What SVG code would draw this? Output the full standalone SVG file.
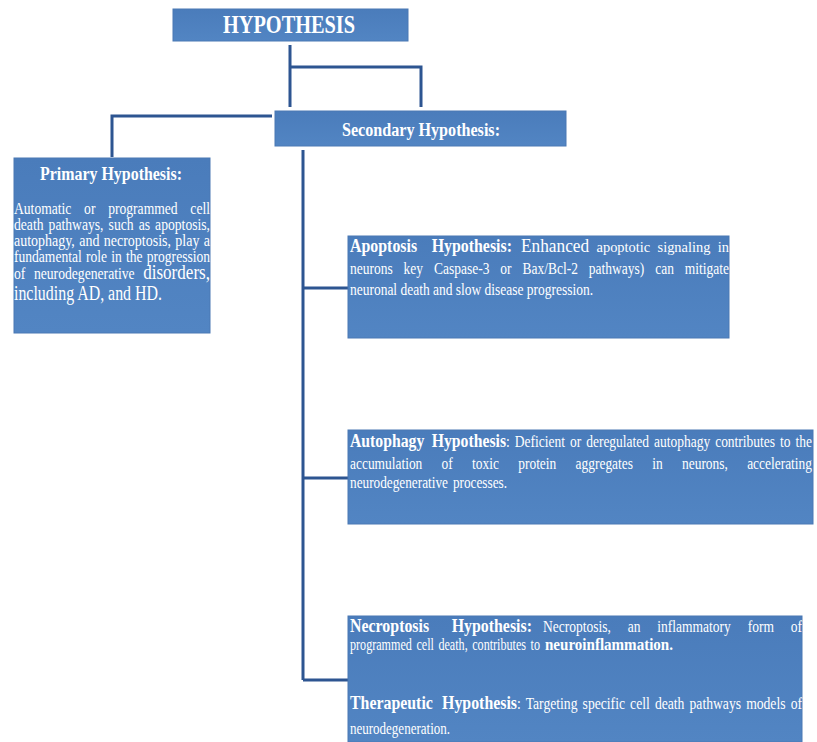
<svg xmlns="http://www.w3.org/2000/svg" width="817" height="742" viewBox="0 0 817 742">
<defs>
<linearGradient id="bg" x1="0" y1="0" x2="0" y2="1">
<stop offset="0" stop-color="#4a7cbb"/>
<stop offset="1" stop-color="#5285c3"/>
</linearGradient>
<style>
.box{fill:url(#bg);stroke:#4a78b4;stroke-width:1}
.t{font-family:"Liberation Serif","Times New Roman",serif;fill:#ffffff}
.b{font-weight:bold}
.c{fill:none;stroke:#2d5591;stroke-width:3}
</style>
</defs>
<rect width="817" height="742" fill="#ffffff"/>
<g id="connectors">
<path class="c" d="M290,45 V107 M290,67 H421 V107"/>
<path class="c" d="M272,116 H112 V157"/>
<path class="c" d="M303,150 V680"/>
<path class="c" d="M303,288 H348 M303,478 H348 M303,680 H348"/>
</g>
<g id="hypothesis">
<rect class="box" x="173" y="9" width="235" height="32"/>
<text class="t b" x="223" y="33" font-size="26" textLength="132" lengthAdjust="spacingAndGlyphs">HYPOTHESIS</text>
</g>
<g id="secondary">
<rect class="box" x="275" y="111" width="291" height="35"/>
<text class="t b" x="342" y="136" font-size="18" textLength="158" lengthAdjust="spacingAndGlyphs">Secondary Hypothesis:</text>
</g>
<g id="primary">
<rect class="box" x="14" y="158" width="196" height="175"/>
<text class="t b" x="40" y="180" font-size="18" textLength="142" lengthAdjust="spacingAndGlyphs">Primary Hypothesis:</text>
<text class="t" x="14" y="214" font-size="16" word-spacing="11" textLength="196" lengthAdjust="spacingAndGlyphs">Automatic or programmed cell</text>
<text class="t" x="14" y="230" font-size="16" word-spacing="2" textLength="196" lengthAdjust="spacingAndGlyphs">death pathways, such as apoptosis,</text>
<text class="t" x="14" y="246" font-size="16" word-spacing="1" textLength="196" lengthAdjust="spacingAndGlyphs">autophagy, and necroptosis, play a</text>
<text class="t" x="14" y="262" font-size="16" word-spacing="1" textLength="196" lengthAdjust="spacingAndGlyphs">fundamental role in the progression</text>
<text class="t" x="14" y="279" font-size="16" word-spacing="6" textLength="196" lengthAdjust="spacingAndGlyphs">of neurodegenerative <tspan font-size="20">disorders,</tspan></text>
<text class="t" x="14" y="300" font-size="20" textLength="148" lengthAdjust="spacingAndGlyphs">including AD, and HD.</text>
</g>
<g id="apoptosis">
<rect class="box" x="348" y="236" width="381" height="102"/>
<text class="t b" x="350" y="252" font-size="18" word-spacing="12" textLength="162" lengthAdjust="spacingAndGlyphs">Apoptosis Hypothesis:</text>
<text class="t" x="521" y="252" font-size="15" word-spacing="4" textLength="208" lengthAdjust="spacingAndGlyphs"><tspan font-size="18">Enhanced</tspan> apoptotic signaling in</text>
<text class="t" x="350" y="274" font-size="16" word-spacing="9" textLength="379" lengthAdjust="spacingAndGlyphs">neurons key Caspase-3 or Bax/Bcl-2 pathways) can mitigate</text>
<text class="t" x="350" y="295" font-size="16" textLength="243" lengthAdjust="spacingAndGlyphs">neuronal death and slow disease progression.</text>
</g>
<g id="autophagy">
<rect class="box" x="348" y="430" width="465" height="94"/>
<text class="t b" x="350" y="447" font-size="18" word-spacing="4" textLength="156" lengthAdjust="spacingAndGlyphs">Autophagy Hypothesis</text>
<text class="t" x="506" y="447" font-size="16" word-spacing="2" textLength="306" lengthAdjust="spacingAndGlyphs">: Deficient or deregulated autophagy contributes to the</text>
<text class="t" x="350" y="469" font-size="16" word-spacing="19" textLength="462" lengthAdjust="spacingAndGlyphs">accumulation of toxic protein aggregates in neurons, accelerating</text>
<text class="t" x="350" y="488" font-size="16" word-spacing="2" textLength="157" lengthAdjust="spacingAndGlyphs">neurodegenerative processes.</text>
</g>
<g id="necroptosis">
<rect class="box" x="348" y="616" width="454" height="126"/>
<text class="t b" x="350" y="632" font-size="18" word-spacing="21" textLength="182" lengthAdjust="spacingAndGlyphs">Necroptosis Hypothesis:</text>
<text class="t" x="543" y="632" font-size="16" word-spacing="16" textLength="259" lengthAdjust="spacingAndGlyphs">Necroptosis, an inflammatory form of</text>
<text class="t" x="350" y="650" font-size="16" word-spacing="2" textLength="190" lengthAdjust="spacingAndGlyphs">programmed cell death, contributes to</text>
<text class="t b" x="545" y="650" font-size="16" textLength="128" lengthAdjust="spacingAndGlyphs">neuroinflammation.</text>
<text class="t b" x="350" y="709" font-size="18" word-spacing="6" textLength="167" lengthAdjust="spacingAndGlyphs">Therapeutic Hypothesis</text>
<text class="t" x="517" y="709" font-size="16" word-spacing="2" textLength="285" lengthAdjust="spacingAndGlyphs">: Targeting specific cell death pathways models of</text>
<text class="t" x="350" y="734" font-size="16" textLength="100" lengthAdjust="spacingAndGlyphs">neurodegeneration.</text>
</g>
</svg>
